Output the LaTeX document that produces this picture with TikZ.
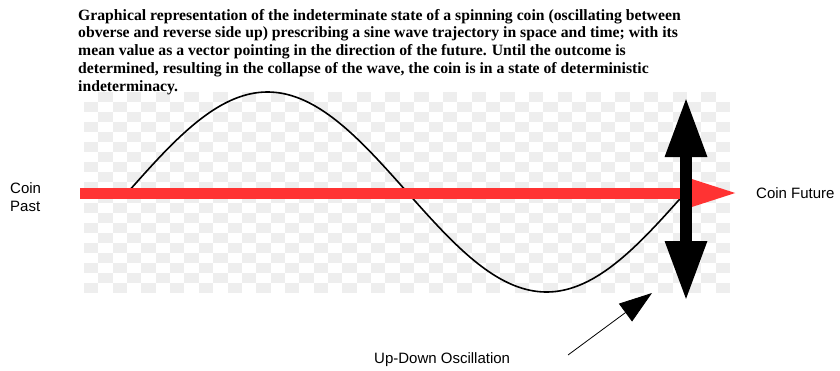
\documentclass[tikz,border=0pt]{standalone}
\usepackage{fontspec}
\setmainfont{Liberation Serif}
\setsansfont{Liberation Sans}
\usetikzlibrary{arrows.meta}
\definecolor{coinred}{HTML}{FF3333}
\definecolor{checker}{HTML}{EEEEEE}

\begin{document}
\begin{tikzpicture}[
  x=1pt, y=-1pt,
  title/.style={font=\bfseries\fontsize{15.7}{17.7}\selectfont, align=left, anchor=base west, inner sep=0pt},
  tag/.style={font=\sffamily\fontsize{15}{18}\selectfont, inner sep=0pt},
  timeline/.style={line width=11pt, coinred, -{Triangle[length=58pt, width=32pt]}},
  flip/.style={line width=12pt, {Triangle[length=60pt, width=39pt]}-{Triangle[length=60pt, width=39pt]}},
  pointer/.style={line width=0.8pt, -{Triangle[length=33pt, width=22pt]}},
]
  \useasboundingbox (0,0) rectangle (840,370);

  % checkered background
  \foreach \i in {0,...,44}
    \foreach \j in {0,...,19}{
      \pgfmathtruncatemacro{\odd}{mod(\i+\j,2)}
      \ifnum\odd=1
        \fill[checker] ({84+\i*14.356},{92+\j*10.05}) rectangle +(14.356,10.05);
      \fi
    }

  % base of the last line
  \node[title] (caption) at (78,91) {Graphical representation of the indeterminate state of a spinning coin (oscillating between\\
    obverse and reverse side up) prescribing a sine wave trajectory in space and time; with its\\
    mean value as a vector pointing in the direction of the future. Until the outcome is\\
    determined, resulting in the collapse of the wave, the coin is in a state of deterministic\\
    indeterminacy.};

  % one period of the spin
  \draw[line width=1.6pt] plot[domain=0:558, samples=120, smooth] ({128+\x},{192-100*sin(\x/558*360)});

  \coordinate (past) at (80,193);
  \coordinate (future) at (738,193);
  \coordinate (up) at (686,97);
  \coordinate (down) at (686,301);
  \coordinate (aim) at (652,293);
  \coordinate (tail) at (568,355);

  \draw[timeline] (past) -- (future);
  \draw[flip] (up) -- (down);

  \node[tag, align=left, anchor=west] (pastlabel) at (10,197) {Coin\\Past};
  \node[tag, anchor=west] (futurelabel) at (756,193) {Coin Future};
  \node[tag, anchor=west] (osclabel) at (374,360) {Up-Down Oscillation};

  \draw[pointer] (tail) -- (aim);
\end{tikzpicture}
\end{document}
